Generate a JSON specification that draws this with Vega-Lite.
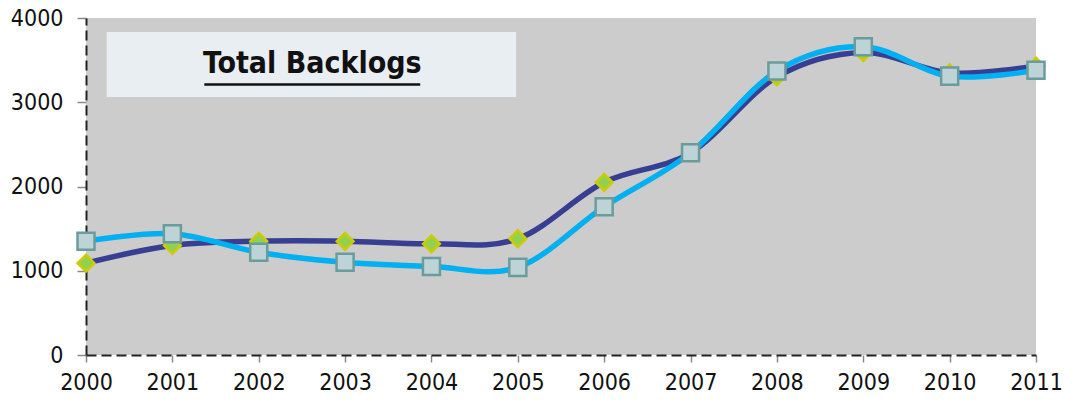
{
  "$schema": "https://vega.github.io/schema/vega-lite/v6.json",
  "width": 950,
  "height": 337,
  "autosize": "none",
  "padding": {"left": 86, "top": 18, "right": 40, "bottom": 49},
  "background": "white",
  "config": {
    "view": {"fill": "#cccccc", "stroke": null},
    "font": "'DejaVu Sans Condensed', 'Liberation Sans', sans-serif"
  },
  "datasets": {
    "backlogs": [
      {"year": 2000, "series": "A", "value": 1090},
      {"year": 2001, "series": "A", "value": 1300},
      {"year": 2002, "series": "A", "value": 1350},
      {"year": 2003, "series": "A", "value": 1350},
      {"year": 2004, "series": "A", "value": 1320},
      {"year": 2005, "series": "A", "value": 1380},
      {"year": 2006, "series": "A", "value": 2050},
      {"year": 2007, "series": "A", "value": 2400},
      {"year": 2008, "series": "A", "value": 3300},
      {"year": 2009, "series": "A", "value": 3590},
      {"year": 2010, "series": "A", "value": 3350},
      {"year": 2011, "series": "A", "value": 3430},
      {"year": 2000, "series": "B", "value": 1350},
      {"year": 2001, "series": "B", "value": 1440},
      {"year": 2002, "series": "B", "value": 1220},
      {"year": 2003, "series": "B", "value": 1100},
      {"year": 2004, "series": "B", "value": 1050},
      {"year": 2005, "series": "B", "value": 1040},
      {"year": 2006, "series": "B", "value": 1760},
      {"year": 2007, "series": "B", "value": 2400},
      {"year": 2008, "series": "B", "value": 3370},
      {"year": 2009, "series": "B", "value": 3660},
      {"year": 2010, "series": "B", "value": 3310},
      {"year": 2011, "series": "B", "value": 3380}
    ],
    "title": [
      {"label": "Total Backlogs", "x0": 2000.24, "x1": 2004.98, "y0": 3062, "y1": 3834, "xc": 2002.62, "yc": 3450, "u0": 2001.37, "u1": 2003.87, "uy": 3210}
    ]
  },
  "encoding": {
    "x": {
      "field": "year",
      "type": "quantitative",
      "scale": {"domain": [2000, 2011], "nice": false, "zero": false},
      "axis": {
        "title": null,
        "values": [2000, 2001, 2002, 2003, 2004, 2005, 2006, 2007, 2008, 2009, 2010, 2011],
        "format": "d",
        "grid": false,
        "domainColor": "#222222",
        "domainWidth": 2,
        "domainDash": [10, 5],
        "tickColor": "#888888",
        "tickSize": 7,
        "tickWidth": 1.5,
        "labelFontSize": 23,
        "labelColor": "#111111",
        "labelPadding": 9,
        "labelFlush": false
      }
    },
    "y": {
      "field": "value",
      "type": "quantitative",
      "scale": {"domain": [0, 4000], "nice": false},
      "axis": {
        "title": null,
        "values": [0, 1000, 2000, 3000, 4000],
        "format": "d",
        "grid": false,
        "domainColor": "#222222",
        "domainWidth": 2,
        "domainDash": [10, 5],
        "tickColor": "#888888",
        "tickSize": 9,
        "tickWidth": 1.5,
        "labelFontSize": 23,
        "labelColor": "#111111",
        "labelPadding": 14
      }
    }
  },
  "layer": [
    {
      "data": {"name": "title"},
      "mark": {"type": "rect", "fill": "#e9eef2", "stroke": null},
      "encoding": {
        "x": {"field": "x0", "type": "quantitative"},
        "x2": {"field": "x1"},
        "y": {"field": "y0", "type": "quantitative"},
        "y2": {"field": "y1"}
      }
    },
    {
      "data": {"name": "title"},
      "mark": {"type": "text", "fontSize": 30, "fontWeight": "bold", "color": "#111111", "align": "center", "baseline": "middle"},
      "encoding": {
        "x": {"field": "xc", "type": "quantitative"},
        "y": {"field": "yc", "type": "quantitative"},
        "text": {"field": "label"}
      }
    },
    {
      "data": {"name": "title"},
      "mark": {"type": "rule", "color": "#111111", "strokeWidth": 2.5},
      "encoding": {
        "x": {"field": "u0", "type": "quantitative"},
        "x2": {"field": "u1"},
        "y": {"field": "uy", "type": "quantitative"}
      }
    },
    {
      "data": {"name": "backlogs"},
      "transform": [{"filter": "datum.series === 'A'"}],
      "mark": {"type": "line", "interpolate": "cardinal", "color": "#383f93", "strokeWidth": 5.5},
      "encoding": {}
    },
    {
      "data": {"name": "backlogs"},
      "transform": [{"filter": "datum.series === 'A'"}],
      "mark": {"type": "point", "shape": "diamond", "filled": true, "fill": "#92d050", "stroke": "#cccc00", "strokeWidth": 2.5, "size": 280, "opacity": 1},
      "encoding": {}
    },
    {
      "data": {"name": "backlogs"},
      "transform": [{"filter": "datum.series === 'B'"}],
      "mark": {"type": "line", "interpolate": "cardinal", "color": "#00b0f0", "strokeWidth": 5.5},
      "encoding": {}
    },
    {
      "data": {"name": "backlogs"},
      "transform": [{"filter": "datum.series === 'B'"}],
      "mark": {"type": "point", "shape": "square", "filled": true, "fill": "#bdd3d5", "stroke": "#6b9c9d", "strokeWidth": 2.5, "size": 290, "opacity": 1},
      "encoding": {}
    },
    {
      "mark": {"type": "rule", "color": "#000000", "strokeWidth": 3.5, "strokeDash": [10, 5]},
      "encoding": {
        "x": {"datum": 2000},
        "x2": {"datum": 2011},
        "y": {"datum": 4000}
      }
    },
    {
      "mark": {"type": "rule", "color": "#000000", "strokeWidth": 3.5, "strokeDash": [10, 5]},
      "encoding": {
        "x": {"datum": 2011},
        "y": {"datum": 0},
        "y2": {"datum": 4000}
      }
    },
    {
      "mark": {"type": "rule", "color": "#000000", "strokeWidth": 2.5, "clip": false},
      "encoding": {
        "x": {"datum": 2009.39},
        "y": {"datum": 4000},
        "y2": {"datum": 4215}
      }
    }
  ]
}
